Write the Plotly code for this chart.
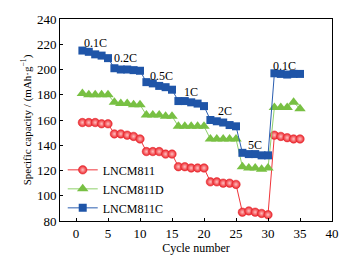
import plotly.graph_objects as go

cycles = list(range(1, 36))
lncm811 = [158, 158, 158, 157, 157,
           149, 149, 148, 147, 145,
           135, 135, 135, 133, 133,
           123, 123, 122, 122, 122,
           111, 111, 110, 110, 109,
           87, 88, 87, 86, 85,
           148, 147, 146, 145, 145]
lncm811d = [181, 180, 180, 180, 180,
            174, 173, 173, 172, 172,
            164, 164, 164, 163, 163,
            155, 155, 155, 155, 155,
            145, 145, 145, 145, 145,
            123, 122, 122, 121, 122,
            170, 170, 170, 174, 169]
lncm811c = [215, 214, 212, 211, 209,
            201, 200, 200, 199.5, 199,
            190, 189, 187, 186, 184,
            175, 175, 174, 173, 171,
            160, 159, 158, 156, 155,
            134, 133, 133, 132, 132,
            197, 196.5, 196, 196.5, 196.5]
rate_labels = ["0.1C", "0.2C", "0.5C", "1C", "2C", "5C", "0.1C"]
rate_x = [3, 7.8, 13.4, 18, 23.3, 28, 32.5]
rate_y = [221, 209, 195, 182, 167, 140, 203]

font = "Liberation Serif, Times New Roman, serif"
fig = go.Figure()
fig.add_trace(go.Scatter(x=cycles, y=lncm811, name="LNCM811", mode="lines+markers",
                         line=dict(color="#f0353a", width=1),
                         marker=dict(symbol="circle", size=8.5, color="#ec2128",
                                     gradient=dict(type="radial", color="#ffc0c0"),
                                     line=dict(color="#e0262c", width=0.5))))
fig.add_trace(go.Scatter(x=cycles, y=lncm811d, name="LNCM811D", mode="lines+markers",
                         line=dict(color="#8fd06a", width=1),
                         marker=dict(symbol="triangle-up", size=10, color="#78c043",
                                     line=dict(width=0))))
fig.add_trace(go.Scatter(x=cycles, y=lncm811c, name="LNCM811C", mode="lines+markers",
                         line=dict(color="#2a5db0", width=1),
                         marker=dict(symbol="square", size=8, color="#1f55a8",
                                     line=dict(width=0))))
for t, x, y in zip(rate_labels, rate_x, rate_y):
    fig.add_annotation(x=x, y=y, text=t, showarrow=False,
                       font=dict(family=font, size=12, color="black"))

axis_common = dict(showline=True, linecolor="black", linewidth=1, mirror=True,
                   ticks="inside", ticklen=3, tickcolor="black", showgrid=False,
                   zeroline=False, ticklabeloverflow="allow",
                   tickfont=dict(family=font, size=13, color="black"))
fig.update_xaxes(range=[-2.5, 40], dtick=5, tick0=0,
                 title=dict(text="Cycle number", font=dict(family=font, size=12, color="black"),
                            standoff=2), **axis_common)
fig.update_yaxes(range=[80, 240], dtick=20,
                 title=dict(text="Specific capacity / (mAh·g<sup>−1</sup>)",
                            font=dict(family=font, size=11, color="black"), standoff=3),
                 **axis_common)
# the page body adds an 8px offset; the figure is sized to fit the 349x260 window
fig.update_layout(width=341, height=252, margin=dict(l=52, r=17, t=4, b=39),
                  plot_bgcolor="white", paper_bgcolor="white",
                  showlegend=True,
                  legend=dict(x=0.01, y=0.325, xanchor="left", yanchor="top",
                              bgcolor="rgba(0,0,0,0)", tracegroupgap=0,
                              font=dict(family=font, size=12, color="black"),
                              itemwidth=30))
fig.write_html("out.html")
